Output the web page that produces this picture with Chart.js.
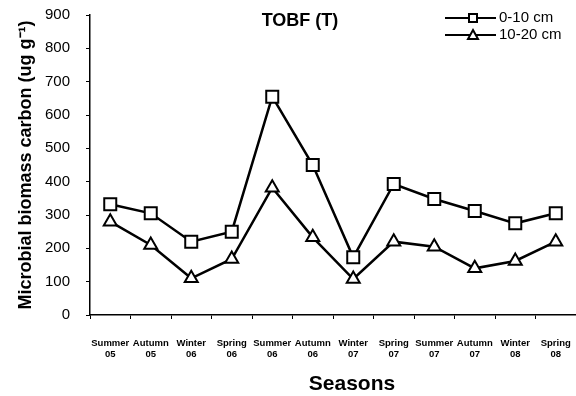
<!DOCTYPE html>
<html>
<head>
<meta charset="utf-8">
<script src="https://cdn.jsdelivr.net/npm/chart.js@4/dist/chart.umd.min.js"></script>
<style>
  html, body { margin: 0; padding: 0; background: #fff; overflow: hidden; }
</style>
</head>
<body>
<canvas id="mbcChart" width="576" height="396"></canvas>
<script>
// Sampling seasons (two-line tick labels)
const seasons = ['Summer', 'Autumn', 'Winter', 'Spring', 'Summer', 'Autumn',
                 'Winter', 'Spring', 'Summer', 'Autumn', 'Winter', 'Spring'];
const years = ['05', '05', '06', '06', '06', '06', '07', '07', '07', '07', '08', '08'];

// Microbial biomass carbon, ug g-1
const depth0to10 = [332, 305, 220, 250, 655, 450, 173, 393, 348, 312, 275, 305];
const depth10to20 = [280, 210, 110, 168, 382, 233, 108, 220, 205, 140, 162, 220];

const seriesNames = ['0-10 cm', '10-20 cm'];
const yMin = 0, yMax = 900, yStep = 100;

const FONT = "Arial, 'Liberation Sans', sans-serif";

// title, legend and x-axis caption drawn on top of the chart
const overlay = {
    id: 'overlay',
    afterDraw(chart) {
        const ctx = chart.ctx;
        ctx.save();
        ctx.fillStyle = '#000';
        ctx.textBaseline = 'middle';
        ctx.textAlign = 'center';
        ctx.font = 'bold 18px ' + FONT;
        ctx.fillText('TOBF (T)', 300, 21);
        ctx.font = 'bold 21px ' + FONT;
        ctx.fillText('Seasons', 352, 384);

        ctx.textAlign = 'left';
        ctx.font = '15px ' + FONT;
        chart.data.datasets.forEach(function (ds, i) {
            const y = 18 + i * 17;
            ctx.strokeStyle = '#000';
            ctx.lineWidth = 2;
            ctx.beginPath();
            ctx.moveTo(445, y);
            ctx.lineTo(496, y);
            ctx.stroke();
            ctx.fillStyle = '#fff';
            ctx.beginPath();
            if (ds.pointStyle === 'rect') {
                ctx.rect(469, y - 4, 8, 8);
            } else {
                ctx.moveTo(473, y - 5);
                ctx.lineTo(478, y + 4);
                ctx.lineTo(468, y + 4);
                ctx.closePath();
            }
            ctx.fill();
            ctx.stroke();
            ctx.fillStyle = '#000';
            ctx.fillText(ds.label, 499, y);
        });
        ctx.restore();
    }
};

new Chart(document.getElementById('mbcChart').getContext('2d'), {
    type: 'line',
    data: {
        labels: seasons.map(function (s, i) { return [s, years[i]]; }),
        datasets: [{
            label: seriesNames[0],
            data: depth0to10,
            borderColor: '#000',
            borderWidth: 2.5,
            pointStyle: 'rect',
            pointRadius: 8.5,
            pointBorderWidth: 2,
            pointBackgroundColor: '#fff',
            pointBorderColor: '#000'
        }, {
            label: seriesNames[1],
            data: depth10to20,
            borderColor: '#000',
            borderWidth: 2.5,
            pointStyle: 'triangle',
            pointRadius: 7.5,
            pointBorderWidth: 2,
            pointBackgroundColor: '#fff',
            pointBorderColor: '#000'
        }]
    },
    options: {
        responsive: false,
        animation: false,
        layout: { autoPadding: false, padding: { top: 15, right: 0, left: 0, bottom: 0 } },
        plugins: {
            legend: { display: false },
            title: { display: false },
            tooltip: { enabled: false }
        },
        scales: {
            x: {
                offset: true,
                grid: { display: true, drawOnChartArea: false, offset: true, tickLength: 4, color: '#000' },
                border: { color: '#000', width: 1.5 },
                ticks: {
                    color: '#000',
                    padding: 18,
                    maxRotation: 0,
                    autoSkip: false,
                    font: { family: FONT, size: 9.5, weight: 'bold', lineHeight: 1.25 }
                },
                afterFit: function (scale) {
                    scale.height = 81;
                    scale.paddingLeft = 0;
                    scale.paddingRight = 0;
                }
            },
            y: {
                min: yMin,
                max: yMax,
                ticks: {
                    stepSize: yStep,
                    color: '#000',
                    padding: 16,
                    font: { family: FONT, size: 15 }
                },
                grid: { display: true, drawOnChartArea: false, tickLength: 4, color: '#000' },
                border: { color: '#000', width: 1.5 },
                title: {
                    display: true,
                    text: 'Microbial biomass carbon (ug g\u207B\u00B9)',
                    color: '#000',
                    padding: { top: 15, bottom: 0 },
                    font: { family: FONT, size: 18, weight: 'bold' }
                },
                afterFit: function (scale) {
                    scale.width = 90;
                    scale.paddingTop = 0;
                    scale.paddingBottom = 0;
                }
            }
        }
    },
    plugins: [overlay]
});
</script>
</body>
</html>
